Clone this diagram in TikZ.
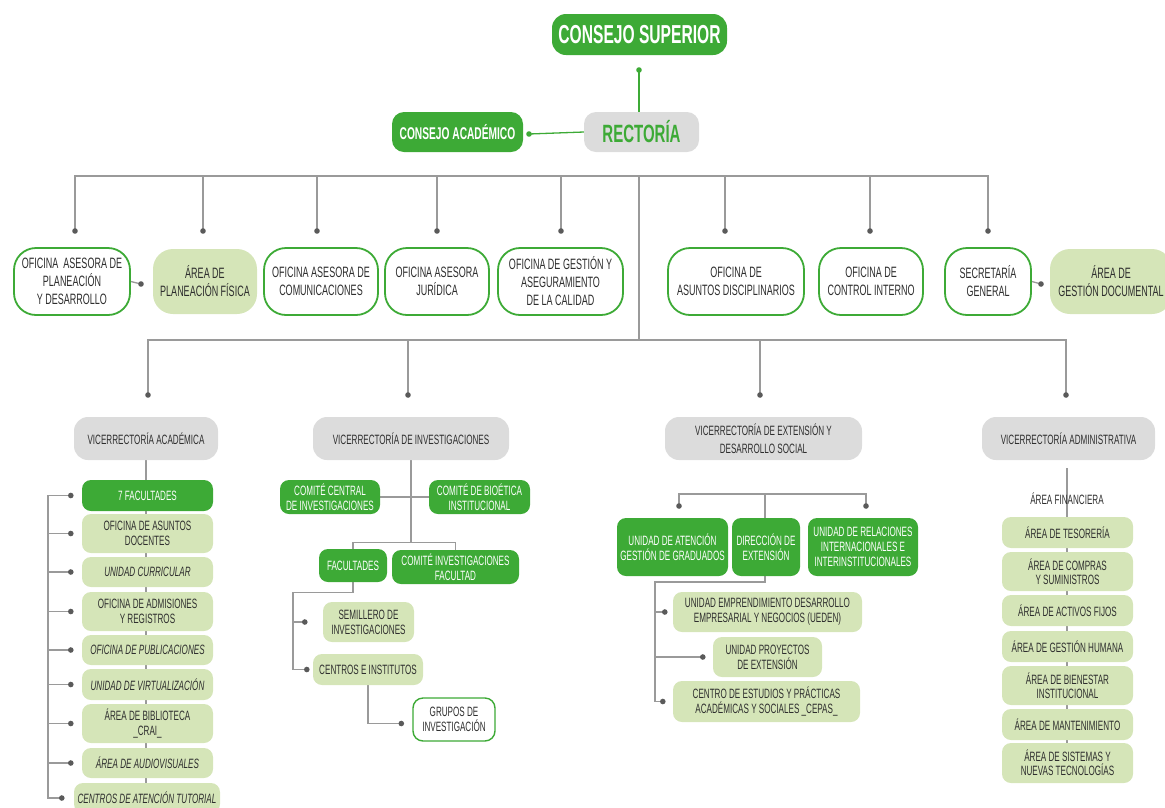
\documentclass[tikz,border=0pt]{standalone}
\usepackage{fontspec}
\setmainfont{Liberation Sans}[FakeStretch=0.6]
\usetikzlibrary{backgrounds,calc}
\definecolor{dg}{HTML}{3DAA36}
\definecolor{lg}{HTML}{D5E5B8}
\definecolor{gb}{HTML}{DCDCDC}
\definecolor{lnc}{HTML}{9A9A9A}
\definecolor{dotc}{HTML}{5A5A5A}
\definecolor{txt}{HTML}{2E2E2E}
\newcommand\obox[7]{\node[#1, minimum width={(#5-#3)*1pt}, minimum height={(#6-#4)*1pt}] (#2) at ({(#3+#5)/2},{(#4+#6)/2}) {#7};}
\newcommand\graydot[1]{\fill[dotc] (#1) circle (2.8);}
\newcommand\greendot[1]{\fill[dg] (#1) circle (2.8);}
\begin{document}
\begin{tikzpicture}[x=1pt,y=-1pt,
  base/.style={inner sep=0pt, align=center, text=txt},
  gbox/.style={base, fill=dg, text=white, rounded corners=9pt},
  lbox/.style={base, fill=lg, rounded corners=9pt},
  wbox/.style={base, draw=dg, line width=1.8pt, fill=white, rounded corners=22pt},
  vbox/.style={base, fill=gb, rounded corners=14pt},
  fo/.style={font=\fontsize{15}{18}\selectfont},
  fc/.style={font=\fontsize{13.5}{15}\selectfont},
  fci/.style={font=\fontsize{13.5}{15}\selectfont\itshape},
  fa/.style={font=\fontsize{13.5}{14}\selectfont},
  ln/.style={draw=lnc, line width=1.3pt},
  gln/.style={draw=dg, line width=1.3pt}
]
\useasboundingbox (0,0) rectangle (1165,807);

% top
\obox{gbox,rounded corners=14pt,font=\fontsize{26}{28}\selectfont\bfseries}{cs}{552}{14}{727}{55}{CONSEJO SUPERIOR}
\obox{vbox,rounded corners=12pt,text=dg,font=\fontsize{25}{27}\selectfont\bfseries}{rect}{584}{112}{699}{152}{RECTORÍA}
\obox{gbox,rounded corners=12pt,font=\fontsize{17}{19}\selectfont\bfseries}{ca}{392}{112}{523}{152}{CONSEJO ACADÉMICO}

% offices
\obox{wbox,fo}{o1}{14}{248}{130}{315}{OFICINA\ \ ASESORA DE\\PLANEACIÓN\\Y DESARROLLO}
\obox{lbox,fo,rounded corners=20pt}{o2}{153}{249}{257}{314}{ÁREA DE\\PLANEACIÓN FÍSICA}
\obox{wbox,fo}{o3}{264}{248}{378}{315}{OFICINA ASESORA DE\\COMUNICACIONES}
\obox{wbox,fo}{o4}{385}{248}{489}{315}{OFICINA ASESORA\\JURÍDICA}
\obox{wbox,fo}{o5}{498}{248}{623}{315}{OFICINA DE GESTIÓN Y\\ASEGURAMIENTO\\DE LA CALIDAD}
\obox{wbox,fo}{o6}{668}{248}{804}{315}{OFICINA DE\\ASUNTOS DISCIPLINARIOS}
\obox{wbox,fo}{o7}{819}{248}{923}{315}{OFICINA DE\\CONTROL INTERNO}
\obox{wbox,fo}{o8}{945}{248}{1031}{315}{SECRETARÍA\\GENERAL}
\obox{lbox,fo,rounded corners=20pt}{o9}{1050}{249}{1172}{314}{ÁREA DE\\GESTIÓN DOCUMENTAL}

% vicerrectorias
\obox{vbox,fc}{va}{74}{417}{218}{460}{VICERRECTORÍA ACADÉMICA}
\obox{vbox,fc}{vi}{313}{417}{509}{460}{VICERRECTORÍA DE INVESTIGACIONES}
\obox{vbox,fc}{ve}{665}{417}{862}{460}{VICERRECTORÍA DE EXTENSIÓN Y\\[3pt]DESARROLLO SOCIAL}
\obox{vbox,fc}{vad}{982}{417}{1155}{460}{VICERRECTORÍA ADMINISTRATIVA}

% academica
\obox{gbox,fc}{a1}{82}{480}{213}{511}{7 FACULTADES}
\obox{lbox,fc}{a2}{82}{514}{213}{553}{OFICINA DE ASUNTOS\\DOCENTES}
\obox{lbox,fci}{a3}{82}{557}{213}{587}{UNIDAD CURRICULAR}
\obox{lbox,fc}{a4}{82}{592}{213}{631}{OFICINA DE ADMISIONES\\Y REGISTROS}
\obox{lbox,fci}{a5}{82}{635}{213}{665}{OFICINA DE PUBLICACIONES}
\obox{lbox,fci}{a6}{82}{669}{213}{700}{UNIDAD DE VIRTUALIZACIÓN}
\obox{lbox,fc}{a7}{82}{704}{213}{743}{ÁREA DE BIBLIOTECA\\\_CRAI\_}
\obox{lbox,fci}{a8}{82}{748}{213}{778}{ÁREA DE AUDIOVISUALES}
\obox{lbox,fci}{a9}{74}{783}{220}{813}{CENTROS DE ATENCIÓN TUTORIAL}

% investigaciones
\obox{gbox,fc}{i1}{280}{480}{380}{514}{COMITÉ CENTRAL\\DE INVESTIGACIONES}
\obox{gbox,fc}{i2}{429}{480}{530}{514}{COMITÉ DE BIOÉTICA\\INSTITUCIONAL}
\obox{gbox,fc}{i3}{319}{549}{387}{582}{FACULTADES}
\obox{gbox,fc}{i4}{392}{550}{519}{584}{COMITÉ INVESTIGACIONES\\FACULTAD}
\obox{lbox,fc}{i5}{323}{602}{414}{642}{SEMILLERO DE\\INVESTIGACIONES}
\obox{lbox,fc}{i6}{313}{654}{423}{685}{CENTROS E INSTITUTOS}
\obox{wbox,fc,line width=1.4pt,rounded corners=10pt}{i7}{413}{698}{495}{741}{GRUPOS DE\\INVESTIGACIÓN}

% extension
\obox{gbox,fc}{e1}{617}{518}{728}{576}{UNIDAD DE ATENCIÓN\\GESTIÓN DE GRADUADOS}
\obox{gbox,fc}{e2}{732}{518}{800}{576}{DIRECCIÓN DE\\EXTENSIÓN}
\obox{gbox,fc}{e3}{808}{518}{918}{576}{UNIDAD DE RELACIONES\\INTERNACIONALES E\\INTERINSTITUCIONALES}
\obox{lbox,fc}{e4}{673}{592}{862}{632}{UNIDAD EMPRENDIMIENTO DESARROLLO\\EMPRESARIAL Y NEGOCIOS (UEDEN)}
\obox{lbox,fc}{e5}{713}{637}{822}{677}{UNIDAD PROYECTOS\\DE EXTENSIÓN}
\obox{lbox,fc}{e6}{673}{681}{860}{722}{CENTRO DE ESTUDIOS Y PRÁCTICAS\\ACADÉMICAS Y SOCIALES \_CEPAS\_}

% administrativa
\node[base,fa] (af) at (1067,499) {ÁREA FINANCIERA};
\obox{lbox,fa}{m1}{1002}{517}{1133}{548}{ÁREA DE TESORERÍA}
\obox{lbox,fa}{m2}{1002}{552}{1133}{591}{ÁREA DE COMPRAS\\Y SUMINISTROS}
\obox{lbox,fa}{m3}{1002}{595}{1133}{626}{ÁREA DE ACTIVOS FIJOS}
\obox{lbox,fa}{m4}{1002}{631}{1133}{662}{ÁREA DE GESTIÓN HUMANA}
\obox{lbox,fa}{m5}{1002}{666}{1133}{705}{ÁREA DE BIENESTAR\\INSTITUCIONAL}
\obox{lbox,fa}{m6}{1002}{709}{1133}{740}{ÁREA DE MANTENIMIENTO}
\obox{lbox,fa}{m7}{1002}{743}{1133}{783}{ÁREA DE SISTEMAS Y\\NUEVAS TECNOLOGÍAS}

% coordinates
\coordinate (d0) at (639,70);
\coordinate (dca) at (529,134);
\coordinate (bar1) at (0,176);
\coordinate (d1) at (75,231);
\coordinate (d2) at (203,231);
\coordinate (d3) at (317,231);
\coordinate (d4) at (437,231);
\coordinate (d5) at (561,231);
\coordinate (d6) at (725,231);
\coordinate (d7) at (870,231);
\coordinate (d8) at (988,231);
\coordinate (pc) at (639,176);
\coordinate (bar2) at (639,340);
\coordinate (v1) at (148,395);
\coordinate (v2) at (408,395);
\coordinate (v3) at (760,395);
\coordinate (v4) at (1066,395);
\coordinate (p1) at (141,284);
\coordinate (p2) at (1041,284);
\coordinate (brk) at (48,0);
\coordinate (ad1) at ([xshift=-11pt]a1.west);
\coordinate (ad2) at ([xshift=-11pt]a2.west);
\coordinate (ad3) at ([xshift=-11pt]a3.west);
\coordinate (ad4) at ([xshift=-11pt]a4.west);
\coordinate (ad5) at ([xshift=-11pt]a5.west);
\coordinate (ad6) at ([xshift=-11pt]a6.west);
\coordinate (ad7) at ([xshift=-11pt]a7.west);
\coordinate (ad8) at ([xshift=-11pt]a8.west);
\coordinate (ad9) at ([xshift=-12pt]a9.west);
\coordinate (ibx) at (293,0);
\coordinate (id5) at ([xshift=-18pt]i5.west);
\coordinate (id6) at ([xshift=-6pt]i6.west);
\coordinate (id7) at ([xshift=-11pt,yshift=-4pt]i7.west);
\coordinate (etop) at (765,494);
\coordinate (ebend) at (765,582);
\coordinate (ebx) at (655,0);
\coordinate (ed1) at (679,506);
\coordinate (ed3) at (866,506);
\coordinate (ed4) at ([xshift=-8pt]e4.west);
\coordinate (ed5) at ([xshift=-10pt]e5.west);
\coordinate (ed6) at ([xshift=-10pt]e6.west);
\coordinate (mtop) at (1067,468);

\begin{scope}[on background layer]
% top
\draw[gln] (d0) -- (d0 |- rect.north);
\draw[gln] (rect.west) -- (dca);
% office bar
\draw[ln] (d1) -- (d1 |- bar1) -- (d8 |- bar1) -- (d8);
\foreach \d in {d2,d3,d4,d5,d6,d7} \draw[ln] (\d |- bar1) -- (\d);
\draw[ln] (o1.east) -- (p1);
\draw[ln] (o8.east) -- (p2);
% vice bar
\draw[ln] (pc) -- (bar2);
\draw[ln] (v1) -- (v1 |- bar2) -- (v4 |- bar2) -- (v4);
\draw[ln] (v2 |- bar2) -- (v2);
\draw[ln] (v3 |- bar2) -- (v3);
% academica
\draw[ln] (va.south) -- (va.south |- a9.center);
\draw[ln] (ad1) -- (ad1 -| brk) -- (ad9 -| brk) -- (ad9);
\foreach \d in {ad2,ad3,ad4,ad5,ad6,ad7,ad8} \draw[ln] (\d -| brk) -- (\d);
% investigaciones
\draw[ln] (vi.south) -- ++(0,83);
\draw[ln] (i1.east) -- (i2.west);
\draw[ln] (i3.north) -- ++(0,-6) -| (i4.north);
\draw[ln] (i3.south) -- ++(0,10) -| (id6 -| ibx) -- (id6);
\draw[ln] (id5 -| ibx) -- (id5);
\draw[ln] (i6.south) |- (id7);
% extension
\draw[ln] (ed1) -- (ed1 |- etop) -- (ed3 |- etop) -- (ed3);
\draw[ln] (etop) -- (ebend) -| (ed6 -| ebx) -- (ed6);
\draw[ln] (ed4 -| ebx) -- (ed4);
\draw[ln] (ed5 -| ebx) -- (ed5);
% administrativa
\draw[ln] (mtop) -- (mtop |- m7.center);
\end{scope}

% dots
\greendot{d0}
\greendot{dca}
\foreach \d in {d1,d2,d3,d4,d5,d6,d7,d8,v1,v2,v3,v4,p1,p2,ad1,ad2,ad3,ad4,ad5,ad6,ad7,ad8,ad9,id5,id6,id7,ed1,ed3,ed4,ed5,ed6} {\graydot{\d}}
\end{tikzpicture}
\end{document}
